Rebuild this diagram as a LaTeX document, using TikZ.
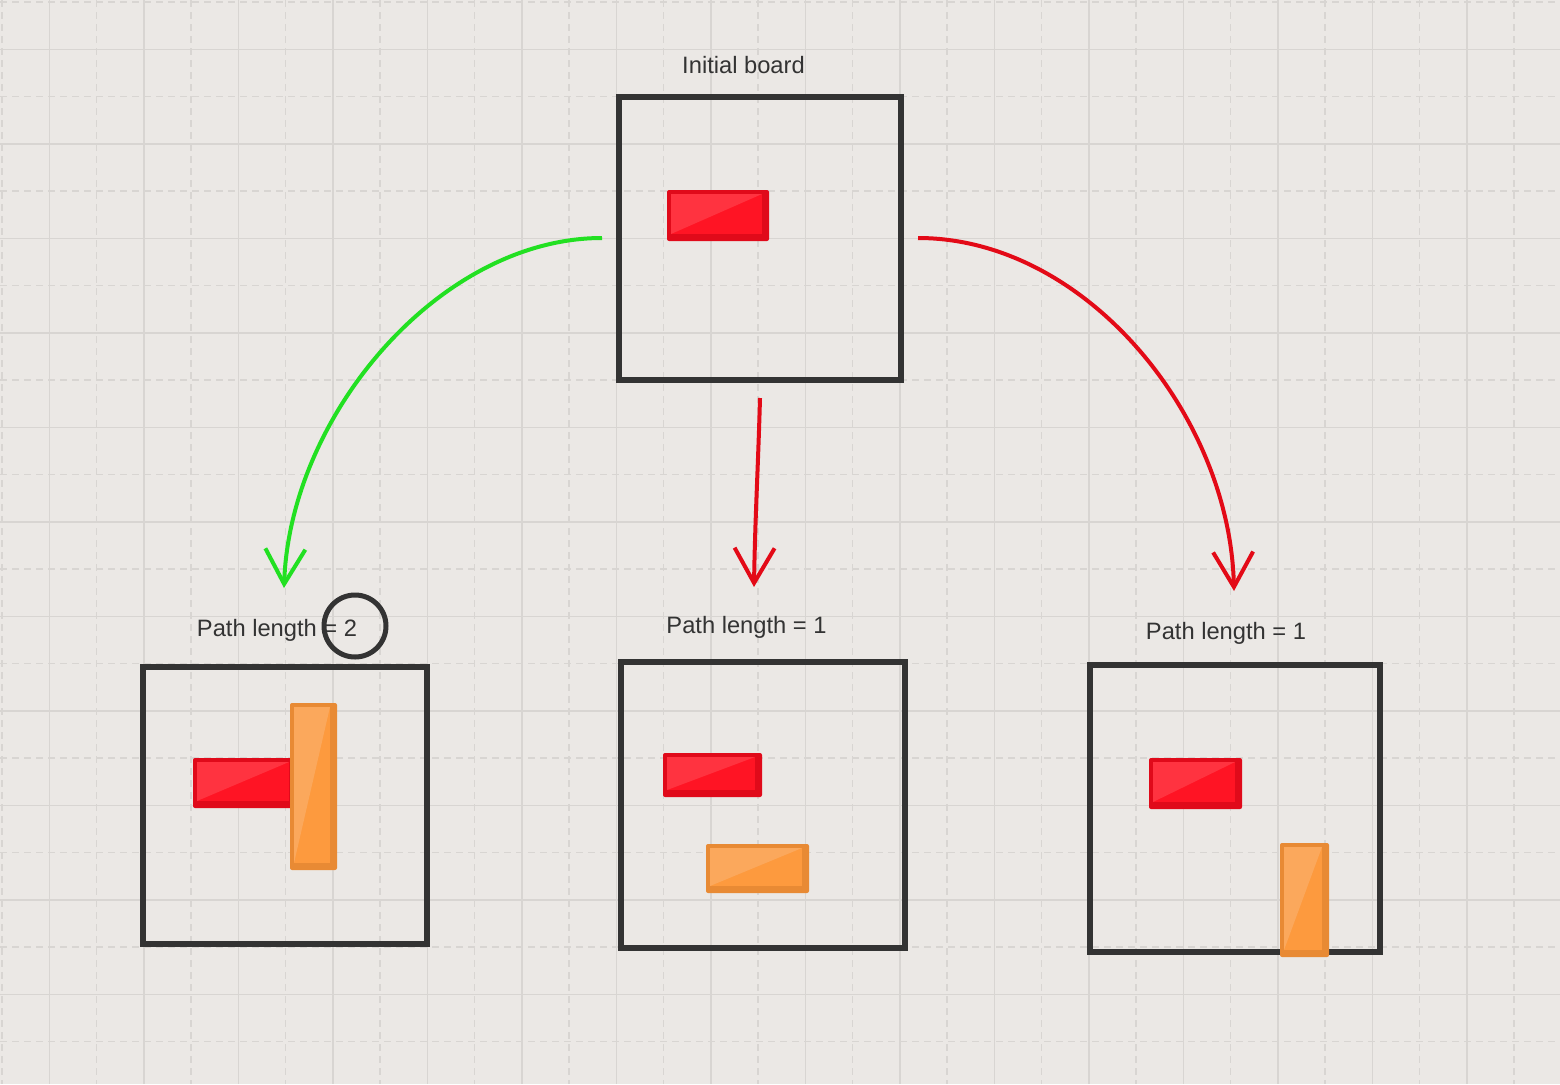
\documentclass[tikz,border=0pt]{standalone}
\usepackage{fontspec}
\setmainfont{Liberation Sans}
\usetikzlibrary{arrows.meta}
\definecolor{bg}{HTML}{EBE8E5}
\definecolor{gridc}{HTML}{D8D5D2}
\definecolor{ink}{HTML}{333333}
\definecolor{garrowc}{HTML}{22E022}
\definecolor{rarrowc}{HTML}{E30A17}
\definecolor{redS}{HTML}{E00A1A}
\definecolor{redM}{HTML}{FF1424}
\definecolor{redL}{HTML}{FF3340}
\definecolor{orS}{HTML}{E88A34}
\definecolor{orM}{HTML}{FD9A3E}
\definecolor{orL}{HTML}{FBA85C}
\newcommand\piece[7]{%
  \fill[#5, rounded corners=2pt] (#1,#2) rectangle (#3,#4);
  \fill[#6] (#1+4,#2+4) rectangle (#3-7,#4-7);
  \fill[#7] (#1+4,#2+4) -- (#3-7,#2+4) -- (#1+4,#4-7) -- cycle;
}
\tikzset{
  board/.style={draw=ink, line width=5.5pt, inner sep=0pt, rectangle},
  lbl/.style={text=ink, anchor=base, inner sep=0pt, font=\fontsize{23.7}{28}\selectfont},
  gridsolid/.style={draw=gridc, line width=1.5pt},
  griddash/.style={draw=gridc, line width=1.8pt, dash pattern=on 7pt off 5pt},
  conn/.style={line width=4pt, -{Straight Barb[length=35pt,width=40pt]}},
}
\begin{document}
\begin{tikzpicture}[x=1pt,y=-1pt]
\useasboundingbox (0,0) rectangle (1560,1084);
\fill[bg] (0,0) rectangle (1560,1084);
% grid
\foreach \k in {0,...,33}{%
  \pgfmathsetmacro\xx{2+47.25*\k}
  \ifodd\k
    \draw[gridsolid] (\xx,0) -- (\xx,1084);
  \else
    \draw[griddash] (\xx,0) -- (\xx,1084);
  \fi
}
\foreach \k in {0,...,22}{%
  \pgfmathsetmacro\yy{2+47.25*\k}
  \ifodd\k
    \draw[gridsolid] (0,\yy) -- (1560,\yy);
  \else
    \draw[griddash] (0,\yy) -- (1560,\yy);
  \fi
}
% boards
\node[board, minimum width=282pt, minimum height=283pt] (init) at (760,238.5) {};
\node[board, minimum width=284pt, minimum height=277pt] (bl) at (285,805.5) {};
\node[board, minimum width=284pt, minimum height=286pt] (bm) at (763,805) {};
\node[board, minimum width=290pt, minimum height=287pt] (br) at (1235,808.5) {};
% labels
\node[lbl] (tinit) at (743.5,73) {Initial board};
\node[lbl] (tbl) at (277,636) {Path length = 2};
\node[lbl] (tbm) at (746.5,633) {Path length = 1};
\node[lbl] (tbr) at (1226,639) {Path length = 1};
\node[draw=ink, line width=5pt, circle, minimum size=62pt, inner sep=0pt] (circ) at (355,626) {};
% pieces
\piece{667}{190}{769}{241}{redS}{redM}{redL}
\piece{193}{758}{296}{808}{redS}{redM}{redL}
\piece{290}{703}{337}{870}{orS}{orM}{orL}
\piece{663}{753}{762}{797}{redS}{redM}{redL}
\piece{706}{844}{809}{893}{orS}{orM}{orL}
\piece{1149}{758}{1242}{809}{redS}{redM}{redL}
\piece{1280}{843}{1329}{957}{orS}{orM}{orL}
% connectors
\coordinate (gs) at (602,238);
\coordinate (ge) at (284,588);
\coordinate (ms) at (760,398);
\coordinate (me) at (754,587);
\coordinate (rs) at (918,238);
\coordinate (re) at (1234,591);
\draw[conn, draw=garrowc] (gs) .. controls (440,238) and (290,415) .. (ge);
\draw[conn, draw=rarrowc] (ms) .. controls (758,470) and (755,520) .. (me);
\draw[conn, draw=rarrowc] (rs) .. controls (1085,238) and (1230,415) .. (re);
\end{tikzpicture}
\end{document}
